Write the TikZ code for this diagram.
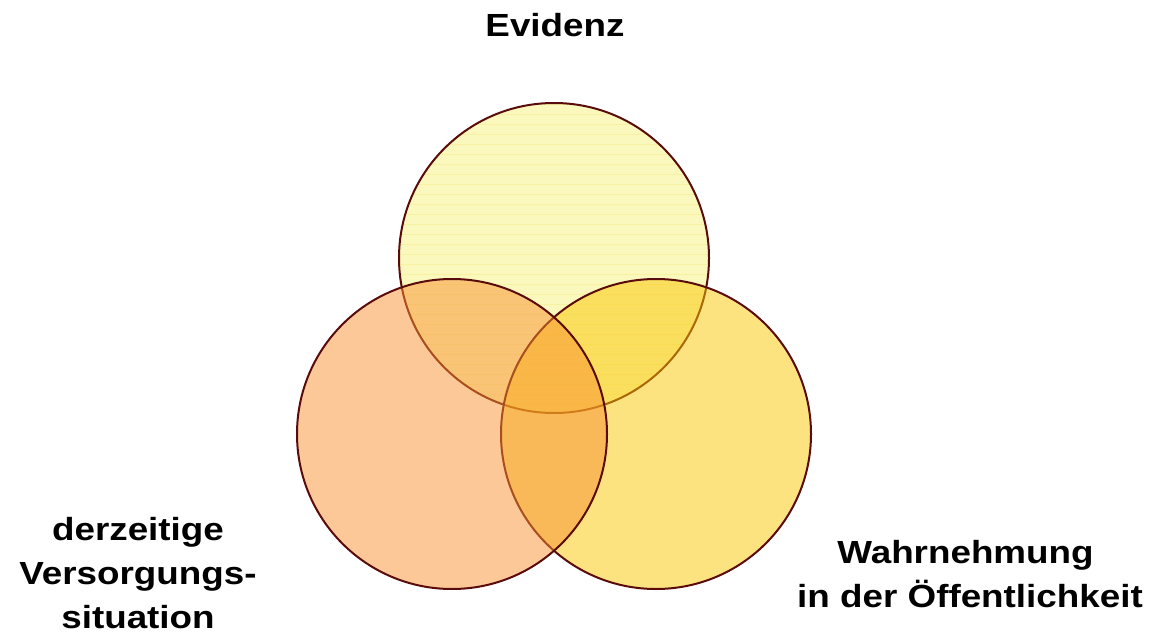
\documentclass[tikz,border=0pt]{standalone}
\usepackage{fontspec}
\newfontfamily\labelfont[FakeStretch=1.15]{Liberation Sans}
\definecolor{rimcol}{HTML}{5A0C0C}
\definecolor{topfill}{HTML}{FAF8BC}
\definecolor{topstripe}{HTML}{F6EC8C}
\definecolor{leftfill}{HTML}{F99131}
\definecolor{rightfill}{HTML}{FBC501}
\tikzset{
  ring/.style={draw=rimcol, line width=2pt},
  label/.style={font=\labelfont\bfseries\fontsize{32}{44}\selectfont, align=center, anchor=base, inner sep=0pt, text=black}
}
\begin{document}
\begin{tikzpicture}[x=1pt, y=-1pt]
\useasboundingbox (0,0) rectangle (1153,636);
% centres of the three circles
\coordinate (ct) at (554,258);
\coordinate (cl) at (452,434);
\coordinate (cr) at (656,434);
% top circle with its fine horizontal stripes
\fill[topfill] (ct) circle[radius=155];
\begin{scope}
  \clip (ct) circle[radius=155];
  \foreach \yy in {104,114,...,414}
    \draw[topstripe, line width=0.8pt, opacity=0.55] (395,\yy) -- (715,\yy);
\end{scope}
\draw[ring] (ct) circle[radius=155];
% right and left circles, translucent
\draw[ring, fill=rightfill, fill opacity=0.5] (cr) circle[radius=155];
\draw[ring, fill=leftfill, fill opacity=0.5] (cl) circle[radius=155];
% labels (base anchor sits on the last line)
\node[label] (evidenz) at (555,37) {Evidenz};
\node[label] (versorgung) at (138,628) {derzeitige\\Versorgungs-\\situation};
\node[label] (wahrnehmung) at (970,607) {Wahrnehmung\hspace*{0.28em}\\in der Öffentlichkeit};
\end{tikzpicture}
\end{document}
